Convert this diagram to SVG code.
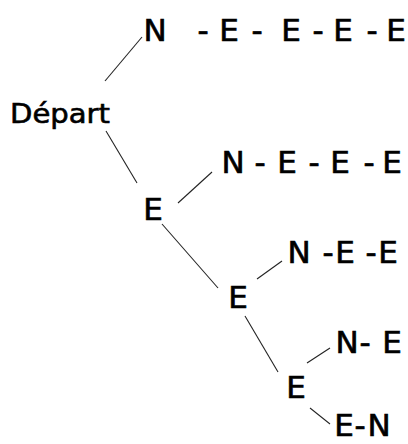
<svg xmlns="http://www.w3.org/2000/svg" width="408" height="444" viewBox="0 0 408 444">
<style>
text{font-family:"DejaVu Sans","Liberation Sans",sans-serif;font-size:31px;fill:#000;stroke:#000;stroke-width:0.7;text-anchor:middle}
.c line{stroke:#222;stroke-width:1.1}
</style>
<rect width="408" height="444" fill="#fff"/>
<g class="c" id="connectors">
<line x1="105" y1="81" x2="142" y2="37"/>
<line x1="106" y1="131" x2="137" y2="183"/>
<line x1="178" y1="203" x2="212" y2="172"/>
<line x1="162" y1="224" x2="218" y2="288"/>
<line x1="257" y1="279" x2="282" y2="261"/>
<line x1="245" y1="316" x2="278" y2="372"/>
<line x1="307" y1="363" x2="330" y2="348"/>
<line x1="310" y1="408" x2="330" y2="424"/>
</g>
<g id="depart"><text x="10" y="123" style="font-size:26px;text-anchor:start;stroke-width:0.6" textLength="100" lengthAdjust="spacingAndGlyphs">Départ</text></g>
<g id="row1"><text y="41"><tspan x="155">N</tspan><tspan x="203">-</tspan><tspan x="229">E</tspan><tspan x="257">-</tspan><tspan x="291">E</tspan><tspan x="318">-</tspan><tspan x="343">E</tspan><tspan x="372">-</tspan><tspan x="396">E</tspan></text></g>
<g id="e2"><text x="153" y="220">E</text></g>
<g id="row2"><text y="173"><tspan x="233">N</tspan><tspan x="260">-</tspan><tspan x="287">E</tspan><tspan x="314">-</tspan><tspan x="340">E</tspan><tspan x="369">-</tspan><tspan x="392">E</tspan></text></g>
<g id="e3"><text x="238" y="308">E</text></g>
<g id="row3"><text y="263"><tspan x="299">N</tspan><tspan x="328">-</tspan><tspan x="345">E</tspan><tspan x="371">-</tspan><tspan x="388">E</tspan></text></g>
<g id="e4"><text x="296" y="398">E</text></g>
<g id="row4"><text y="353"><tspan x="347">N</tspan><tspan x="365">-</tspan><tspan x="392">E</tspan></text></g>
<g id="row5"><text y="436"><tspan x="344">E</tspan><tspan x="360">-</tspan><tspan x="379">N</tspan></text></g>
</svg>
